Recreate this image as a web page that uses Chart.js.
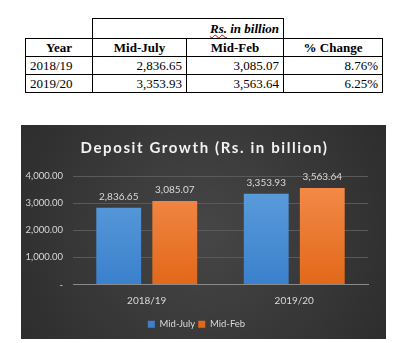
<!DOCTYPE html>
<html>
<head>
<meta charset="utf-8">
<script src="https://cdn.jsdelivr.net/npm/chart.js@4/dist/chart.umd.min.js"></script>
<style>
body { margin: 0; background: #fff; width: 396px; height: 343px; position: relative; overflow: hidden; }
table { position: absolute; left: 25px; top: 18px; border-collapse: collapse; table-layout: fixed;
        font-family: "Liberation Serif", "Tinos", "Times New Roman", "DejaVu Serif", serif; font-size: 13px; color: #000; }
td, th { border: 1px solid #000; padding: 0 4px; height: 17px; line-height: 17px; white-space: nowrap; }
th { font-weight: bold; text-align: center; }
td { text-align: right; }
td.yr { text-align: left; }
tr.top td { height: 19px; border-top: 1px solid #000; }
tr.top td.blank { border: none; }
.unit { font-style: italic; font-weight: bold; }
.unit span { text-decoration: underline wavy #d00; text-decoration-thickness: 1px; }
#box { position: absolute; left: 21px; top: 125px; width: 365px; height: 214px; }
</style>
</head>
<body>
<table id="tbl">
  <colgroup><col style="width:67px"><col style="width:94px"><col style="width:97px"><col style="width:99px"></colgroup>
  <tr class="top"><td class="blank"></td><td colspan="2" class="unit"><span>Rs.</span> in billion</td><td class="blank"></td></tr>
  <tr><th>Year</th><th>Mid-July</th><th>Mid-Feb</th><th>% Change</th></tr>
</table>
<div id="box"><canvas id="myChart" width="365" height="214"></canvas></div>
<script>
const categories = ['2018/19', '2019/20'];
const midJuly = [2836.65, 3353.93];
const midFeb = [3085.07, 3563.64];
const pctChange = ['8.76%', '6.25%'];
const seriesNames = ['Mid-July', 'Mid-Feb'];
const titleText = 'Deposit Growth (Rs. in billion)';

const fmt = v => v.toLocaleString('en-US', { minimumFractionDigits: 2, maximumFractionDigits: 2 });

// table rows
const tbl = document.getElementById('tbl');
for (let i = 0; i < categories.length; i++) {
    const row = document.createElement('tr');
    const cells = [categories[i], fmt(midJuly[i]), fmt(midFeb[i]), pctChange[i]];
    cells.forEach((c, j) => {
        const td = document.createElement('td');
        if (j === 0) td.className = 'yr';
        td.textContent = c;
        row.appendChild(td);
    });
    tbl.appendChild(row);
}

// dark background
const bgPlugin = {
    id: 'bg',
    beforeDraw(chart) {
        const ctx = chart.ctx;
        const w = chart.width, h = chart.height;
        const g = ctx.createRadialGradient(w / 2, h / 2, 10, w / 2, h / 2, w * 0.65);
        g.addColorStop(0, '#454545');
        g.addColorStop(1, '#2a2a2a');
        ctx.save();
        ctx.fillStyle = g;
        ctx.fillRect(0, 0, w, h);
        ctx.restore();
    }
};

// spaced-out title (the built-in title only reserves the room)
const titlePlugin = {
    id: 'spacedTitle',
    afterDraw(chart) {
        const t = chart.titleBlock;
        const ctx = chart.ctx;
        ctx.save();
        ctx.font = 'bold 15px Lato';
        ctx.letterSpacing = '1.6px';
        ctx.fillStyle = '#f2f2f2';
        ctx.textAlign = 'center';
        ctx.textBaseline = 'middle';
        ctx.fillText(titleText, (chart.width) / 2 + 1, t.top + t.height / 2 - 2);
        ctx.restore();
    }
};

// value labels above bars
const labelPlugin = {
    id: 'valueLabels',
    afterDatasetsDraw(chart) {
        const ctx = chart.ctx;
        ctx.save();
        ctx.font = '10px Lato';
        ctx.fillStyle = '#d9d9d9';
        ctx.textAlign = 'center';
        ctx.textBaseline = 'bottom';
        chart.data.datasets.forEach((ds, i) => {
            chart.getDatasetMeta(i).data.forEach((bar, j) => {
                ctx.fillText(fmt(ds.data[j]), bar.x, bar.y - 6);
            });
        });
        ctx.restore();
    }
};

function grad(top, bottom) {
    return (c) => {
        const area = c.chart.chartArea;
        if (!area) return bottom;
        const g = c.chart.ctx.createLinearGradient(0, area.top, 0, area.bottom);
        g.addColorStop(0, top);
        g.addColorStop(1, bottom);
        return g;
    };
}

const config = {
    type: 'bar',
    data: {
        labels: categories,
        datasets: [{
            label: seriesNames[0],
            data: midJuly,
            backgroundColor: grad('#5fa0dc', '#3a80cc'),
            barPercentage: 0.8,
            categoryPercentage: 0.76
        }, {
            label: seriesNames[1],
            data: midFeb,
            backgroundColor: grad('#f48d4c', '#e2681a'),
            barPercentage: 0.8,
            categoryPercentage: 0.76
        }]
    },
    options: {
        responsive: false,
        devicePixelRatio: 1,
        animation: false,
        layout: { padding: { left: 4, right: 18, top: 0, bottom: 0 } },
        plugins: {
            title: {
                display: true,
                text: titleText,
                color: 'rgba(0,0,0,0)',
                font: { family: 'Lato', size: 16, weight: 'bold' },
                padding: { top: 10, bottom: 22 }
            },
            legend: {
                position: 'bottom',
                labels: {
                    color: '#d9d9d9',
                    boxWidth: 7,
                    boxHeight: 7,
                    padding: 3,
                    font: { family: 'Lato', size: 9.5 }
                }
            },
            tooltip: { enabled: false }
        },
        scales: {
            x: {
                grid: { display: false, drawTicks: false },
                border: { display: true, color: '#8a8a8a' },
                ticks: { color: '#d9d9d9', font: { family: 'Lato', size: 10 }, padding: 10 }
            },
            y: {
                min: 0,
                max: 4000,
                afterFit: (s) => { s.width = 48; },
                border: { display: false },
                grid: { color: '#5a5a5a', drawTicks: false },
                ticks: {
                    stepSize: 1000,
                    padding: 10,
                    color: '#d9d9d9',
                    font: { family: 'Lato', size: 9.5 },
                    callback: (v) => v === 0 ? '-' : fmt(v)
                }
            }
        }
    },
    plugins: [bgPlugin, labelPlugin, titlePlugin]
};

const myChart = new Chart('myChart', config);
</script>
</body>
</html>
